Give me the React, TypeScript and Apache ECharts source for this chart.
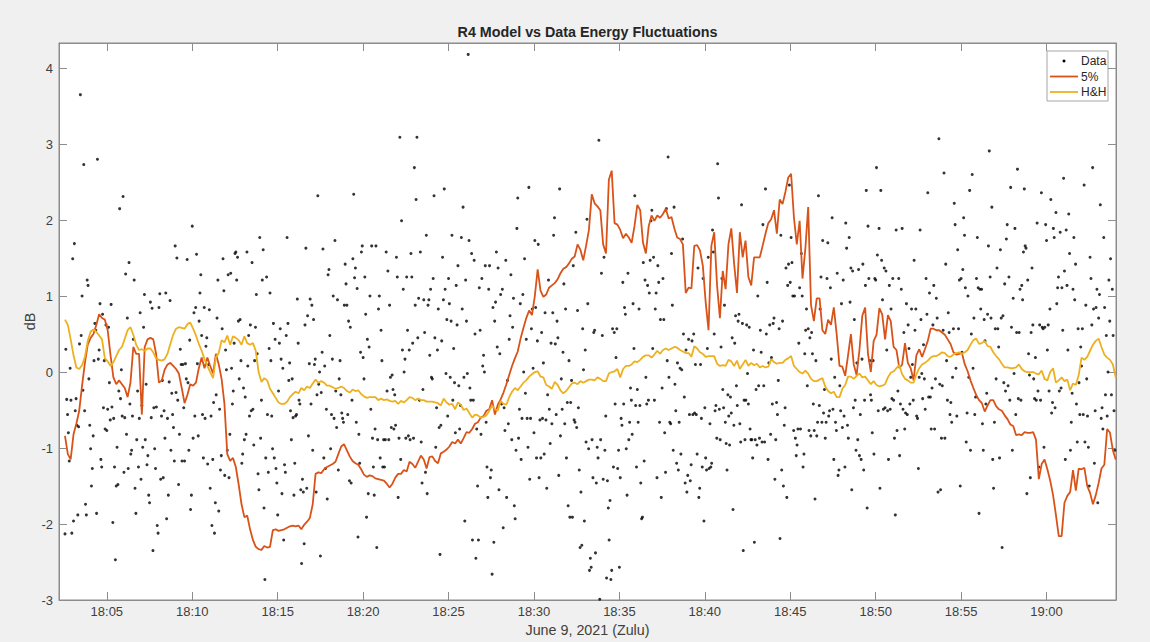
import React, { useEffect, useRef } from "react";
import * as echarts from "echarts";

// Time is measured in seconds after 18:00:00 (Zulu), June 9, 2021.
const AXIS_START = 132;
const AXIS_END = 3844;
const TICK_SECONDS = [300, 600, 900, 1200, 1500, 1800, 2100, 2400, 2700, 3000, 3300, 3600];
const TICK_LABELS = ["18:05", "18:10", "18:15", "18:20", "18:25", "18:30", "18:35", "18:40", "18:45", "18:50", "18:55", "19:00"];
const Y_TICKS = [-3, -2, -1, 0, 1, 2, 3, 4];
const Y_MIN = -3;
const Y_MAX = 4.33;

// Measured energy fluctuation samples (dB), one every 3 s.
const DATA_START = 153;
const DATA_STEP = 3;
const DATA_DB = [
  -2.13, 0.30, -0.36, -0.56, -0.80, -1.17, 0.05, -0.37, -2.12, 1.49, -1.96, 1.69, -0.51, -0.35, -0.70, -1.88, -0.72, 0.37, 3.65, 0.48,
  1.00, -0.24, 2.73, -0.51, -1.74, -1.88, 1.21, 1.14, -0.09, -0.70, -1.01, -1.50, -1.27, -0.84, 0.15, 0.64, 0.55, -1.86, 2.80, 0.17,
  0.29, 0.90, -1.15, -1.25, 0.76, -0.47, 0.15, -0.75, 0.62, -0.77, -0.49, 0.59, -0.14, -0.63, 0.89, -0.46, -1.98, -0.61, -1.25, -2.47,
  -1.50, -0.99, -1.48, -0.25, 2.15, -0.35, 0.03, -0.58, 2.31, -1.32, -0.60, 1.29, -0.82, 0.71, -1.27, 1.44, -0.42, -1.08, -1.03, -0.58,
  0.43, 1.21, -1.53, -1.86, -0.89, -0.25, -1.25, -0.61, 0.78, -1.41, -0.44, -0.99, 0.59, 1.02, -0.89, -0.16, -1.22, -1.10, -1.62, -1.72,
  0.92, -0.60, 0.84, -2.35, -0.47, -1.01, -1.27, -0.46, -2.02, -2.12, 0.85, 1.03, -1.41, -0.58, -0.11, -1.39, -0.51, -0.87, 1.04, -1.93,
  -0.61, -1.62, -0.13, 0.94, -1.03, -0.28, -0.56, -0.73, -1.17, 1.66, -0.27, 1.50, -0.37, -1.48, -0.82, 0.30, 0.10, -1.17, 0.10, -0.47,
  -1.17, 0.11, -0.09, 1.48, -0.14, -1.03, 0.42, -1.81, -1.62, 1.92, -0.87, 0.78, -0.58, 0.85, 1.55, 0.11, -0.84, 0.67, 1.04, 1.28,
  0.48, -0.56, -1.13, 0.85, -0.61, 0.34, 0.45, -1.21, 0.10, 0.82, -1.53, -0.58, -2.02, -1.15, -0.40, -2.12, -1.72, -0.30, 0.71, 1.21,
  -1.83, -0.49, -1.29, -1.10, 0.57, 1.49, 1.07, -1.36, 0.29, 0.03, -1.03, 1.28, -1.39, -0.82, 1.30, 0.05, -0.42, -0.25, 0.38, 1.56,
  1.58, 1.21, 1.51, 0.67, -0.09, 0.69, 0.15, -1.20, -1.08, -0.21, -0.89, -0.33, -0.82, 1.58, 0.08, 0.48, -0.58, 0.62, -0.51, 1.44,
  -0.49, -0.96, 0.15, 0.59, 1.02, 0.24, -1.34, -1.55, 1.77, -0.87, -0.37, 1.21, 1.61, -1.79, -2.73, -1.13, 1.25, -0.56, -1.32, 0.31,
  1.04, 0.15, -0.58, -1.01, 0.64, -1.13, 0.43, -1.27, -1.46, -1.88, -0.25, 0.38, 0.57, 0.17, -1.60, 0.05, -2.21, -1.22, -1.32, 0.48,
  1.77, 0.64, -0.11, 0.12, -0.51, -0.89, -0.09, -0.60, -1.62, -1.20, -0.58, -0.56, 0.96, 0.38, -0.37, -0.42, -1.55, -2.52, -1.41, -1.58,
  -2.26, 0.62, 1.63, -1.53, 0.74, -0.84, 0.11, 0.96, -0.42, 0.88, -1.03, 0.69, 0.10, 0.17, -1.58, -0.30, 2.32, -0.16, 0.00, -2.42,
  -0.27, 0.26, 1.62, -1.13, 0.08, -1.27, -0.49, -1.67, 1.28, 1.35, 0.48, -1.01, -0.56, 0.17, 1.00, -0.61, 1.73, -0.25, -0.73, 0.95,
  -1.29, -0.09, 0.15, -0.30, -0.54, -0.61, -0.66, 0.88, 1.42, 1.16, 0.88, -0.56, 0.67, -1.43, 0.59, -1.46, -0.37, 1.49, 2.34, 1.24,
  1.37, -0.66, 1.10, -2.17, -0.82, -1.20, 0.26, 1.58, 1.66, 0.19, -0.09, 1.25, 0.76, -1.91, 0.43, -1.60, 0.33, 1.00, -0.49, 1.66,
  -0.87, -1.25, -1.62, -0.75, 1.66, -2.31, -0.89, 0.83, 1.00, -1.13, 0.55, 0.15, -1.25, -0.89, -1.25, -0.89, 1.58, -0.25, 1.33, -0.89,
  0.88, -0.07, -0.73, -0.04, -0.23, -0.75, -0.30, -0.70, 1.51, 1.25, -1.65, -0.87, 3.09, -1.15, 1.99, 0.29, 1.09, 0.00, 0.17, -0.87,
  1.25, 0.55, -0.84, 0.29, -0.89, 1.56, 1.25, 0.38, -0.87, 2.69, 0.88, 2.27, 3.09, 0.45, 0.97, -0.37, 1.58, -0.92, -1.46, -0.23,
  0.95, 0.52, -1.32, 1.80, -1.60, 0.88, 0.95, 0.22, 1.09, -0.07, -0.09, 1.23, 2.32, 0.45, -0.99, -0.47, 0.29, 0.83, -0.73, -2.40,
  -0.70, 0.41, 1.51, 0.95, 2.41, 1.09, -0.02, 0.69, -0.58, 1.23, 0.90, -0.07, 0.67, 1.80, -0.37, 0.31, -0.14, -0.80, 1.14, 0.62,
  1.40, -0.18, -0.75, -0.44, 1.77, 0.83, 2.17, -0.07, -1.96, 1.21, 0.67, -0.02, 4.18, 1.73, -0.21, -0.37, 1.56, -2.21, -0.37, 1.47,
  0.50, -2.45, -0.75, -1.50, -2.21, 1.11, 0.55, -0.82, 1.23, 0.08, 0.22, 0.00, 1.40, -0.66, -1.25, -1.65, 1.09, 1.40, -1.39, -1.29,
  -2.66, 0.85, -2.24, 0.67, 0.92, 1.58, 0.33, 1.37, -1.55, 0.24, 1.02, -0.42, 1.09, -2.05, -0.47, -0.77, 1.47, -1.65, -0.11, -0.68,
  0.43, 0.74, 1.28, -0.89, 0.59, 0.97, -1.76, -1.93, -1.03, 1.89, 2.29, -0.87, -0.49, 0.90, -1.15, -0.61, 1.02, 0.00, 1.49, -0.28,
  0.43, -0.61, -0.99, 2.43, -1.41, -0.61, 0.57, 0.83, 0.05, -0.80, 1.73, 0.85, -1.13, 0.41, 1.68, -1.39, -0.63, -1.13, 0.52, -0.61,
  0.12, -1.08, 0.78, -0.63, -1.53, -0.30, 1.21, -0.49, -0.94, 0.38, -0.68, 0.78, 1.80, 2.03, 0.37, -0.56, 0.67, 0.45, -1.36, 2.41,
  -0.84, -0.09, -0.49, 0.26, 1.16, -0.68, 0.83, -1.13, -0.40, -1.76, 0.15, -1.91, -0.40, -0.11, -1.91, 1.40, -0.63, -0.66, 1.84, -0.73,
  0.81, -0.47, -1.29, -2.31, -1.58, -2.28, 0.57, 0.03, -1.96, 0.29, -0.92, 2.01, 0.90, -1.01, -2.61, -2.45, -2.57, -0.89, -1.39, 0.52,
  0.55, -2.38, -1.46, -0.99, -1.13, 3.05, -2.99, -0.89, 1.30, 0.48, -1.41, 1.51, -1.03, -0.58, -2.71, -1.43, -1.79, -2.21, -1.69, -2.73,
  -2.61, 0.57, -1.25, 0.52, -0.42, 0.19, 0.57, -1.27, -1.03, -2.57, -1.39, -0.61, -0.70, 1.18, -0.42, 0.85, 0.76, -1.01, -1.62, 1.30,
  -0.89, -0.66, -0.21, -0.37, -0.82, 0.90, 0.31, 2.32, -0.44, -1.25, -0.23, -0.66, 0.83, -0.44, -1.46, -1.93, -1.91, 1.44, -1.17, 1.21,
  -0.07, -0.42, 1.14, -0.37, 1.04, 1.47, 1.99, 2.13, 0.31, 1.51, -0.37, 0.83, 1.04, -1.39, 1.40, 1.18, -0.66, 0.69, -1.65, -0.21,
  1.23, 0.69, -0.80, -1.32, 2.15, 0.15, 2.83, -0.07, -0.66, -0.68, 1.56, 0.88, -1.03, 2.17, -0.16, -0.51, -1.20, 0.12, -1.29, -0.66,
  0.05, -1.08, 0.03, 1.75, 0.50, -0.33, -1.46, 0.29, -1.58, -1.36, 0.43, -0.56, -1.43, -1.22, 0.41, -0.56, 0.50, -0.54, 0.10, -0.56,
  -1.08, 1.37, -1.65, -1.53, 0.10, -0.61, -1.25, 1.23, -1.96, -0.47, -1.13, -1.29, 0.31, 1.51, -1.27, -0.68, -1.25, -1.20, 1.87, 1.58,
  0.50, -0.51, -0.44, -0.87, 2.74, 2.29, -0.49, -0.89, 0.33, 1.23, -0.23, -0.47, 0.88, -0.66, -0.94, -1.29, -0.30, -0.58, -0.96, -0.33,
  -0.54, 0.45, -1.81, -0.70, 0.38, 0.74, -0.18, -0.44, 0.67, 0.76, -0.68, -0.92, 2.20, 0.64, -2.35, -0.37, -0.89, -0.37, 0.62, -0.02,
  -0.42, 0.59, -0.75, -0.89, -0.89, -1.13, 0.29, -2.24, -0.89, -0.23, -0.96, 1.00, -0.18, -0.87, 0.55, 0.26, -0.92, 1.94, -0.18, -0.92,
  2.41, 0.50, 1.18, -1.15, 0.12, 0.62, -0.82, 0.19, -0.42, 0.64, 0.71, -1.41, -0.89, -0.40, -0.56, -0.11, 0.57, -2.19, 1.80, -1.29,
  0.67, -1.50, -0.70, -0.47, 1.37, -1.65, 1.14, 1.42, 2.46, 1.18, 1.77, 1.44, 1.00, -0.77, 1.00, -0.87, -1.10, -0.96, -0.75, 0.38,
  1.11, -0.75, 1.56, 1.00, -1.25, -1.08, 0.24, 0.55, 0.83, -0.18, 0.57, -0.77, 0.45, -0.84, 0.52, 0.24, -0.42, -0.77, -1.67, 0.15,
  -0.84, -0.66, 2.32, -0.44, 0.83, 1.25, -0.66, 1.73, -0.54, -0.23, -0.87, -0.66, 1.23, 1.70, -0.58, -0.51, 1.11, 0.17, 2.03, -0.49,
  -1.15, -0.07, -0.66, -0.77, 1.30, -1.36, -1.29, -0.18, -0.51, 0.90, -0.73, 1.21, -0.58, -1.25, 1.96, 1.63, -0.70, -0.87, 1.77, 0.92,
  1.37, -1.55, 1.33, -0.47, 0.69, -0.37, -1.03, 0.12, -0.89, 1.35, -1.10, -0.56, -1.15, 0.17, 1.42, -1.29, -0.37, 1.14, 2.39, -1.79,
  1.92, 1.23, 0.15, -0.30, -0.37, -0.80, 0.15, -1.08, 1.23, 1.21, 2.69, 1.54, -0.51, 1.89, -1.53, 2.39, 1.47, 0.95, -0.49, 1.37,
  -0.47, 1.33, 0.29, -0.51, -1.15, 1.14, -0.49, 0.83, -0.35, 1.23, -0.37, -0.87, -1.88, 1.87, -0.77, -0.25, 1.23, -1.10, -0.42, 1.09,
  1.89, -0.49, 0.52, -0.75, -0.54, 0.90, -0.56, 0.62, 0.31, -0.42, -0.07, 0.83, 0.10, -0.37, 1.47, 0.55, 0.83, -0.58, -0.61, -1.27,
  -0.07, 1.87, 0.69, -0.02, -0.35, 0.36, -0.09, -0.49, 1.23, 0.76, 2.36, -0.33, 1.04, -0.33, -0.75, -0.21, 0.62, 1.14, -0.75, -0.09,
  0.97, 0.71, -1.58, 3.07, -0.16, -1.55, -0.87, -0.18, 0.55, 2.62, -0.87, 1.42, 0.15, -0.37, 0.78, 0.52, -0.56, -0.40, -0.66, -0.07,
  0.57, 2.22, 1.94, 0.05, -0.58, 1.61, 0.57, 1.21, -1.50, 1.23, 0.26, 1.35, 2.03, 1.80, 1.11, -0.92, -0.54, 1.00, -0.07, 2.39,
  -1.03, 0.50, 2.60, 0.05, 0.71, -0.56, -0.33, 1.23, 1.77, 1.11, -1.86, 1.09, 0.83, 1.09, -0.68, -1.03, 0.69, 0.41, -0.42, -0.28,
  0.76, 1.66, 2.91, 1.25, 0.71, 2.17, -1.15, -1.53, -0.66, 0.57, -0.09, 1.37, 0.57, 0.33, -1.13, 1.61, 0.71, -2.31, 0.74, -0.14,
  1.16, -0.25, 1.75, 1.94, -0.18, 1.25, -0.37, 2.43, 0.59, -1.03, 0.97, -0.02, 1.89, -0.56, 0.52, 2.67, -0.35, 0.52, 1.09, -0.37,
  1.14, 0.95, 1.58, 2.41, 1.66, 1.63, -1.60, 1.21, 0.24, -0.04, -1.39, 0.52, 1.37, 0.62, -0.09, -0.35, 0.19, -0.37, 1.96, -0.25,
  -1.25, 0.62, -0.37, 2.36, 0.59, 0.57, -0.99, 0.59, 1.94, 1.73, 0.29, 0.62, -0.25, 0.83, 2.27, -0.54, -0.40, 1.89, 1.77, -0.47,
  2.10, 0.90, 1.11, 1.25, -0.25, 1.84, -0.21, 1.11, 0.55, 2.55, 1.33, -1.15, 1.87, 1.14, 0.29, 2.08, 1.56, -1.03, -0.66, -0.28,
  1.09, 1.77, 0.95, 1.42, -0.42, -0.92, 0.57, -0.14, -0.56, 0.33, 0.08, 0.57, -0.56, 2.46, -0.92, 0.88, -0.09, -0.58, -0.99, -1.50,
  1.51, 1.23, 0.62, 2.69, 0.83, -1.20, -0.51, 0.85, 1.09, -1.72, 0.71, 1.02, 2.20, -0.61, -0.47, -0.75, 1.77, 0.85, -0.30, 0.48,
  -0.58, 0.00, 1.21, 0.67, 1.49, -0.30, 1.09, 0.48, -0.51, -1.03,
];

// Model curves (dB), one value every 10 s.
const MODEL_START = 153;
const MODEL_STEP = 10;
const FIVE_PCT_DB = [
  -0.84, -1.08, -1.15, -0.82, -0.68, -0.51, -0.18, 0.12, 0.36, 0.45,
  0.50, 0.62, 0.76, 0.71, 0.69, 0.55, 0.22, -0.07, -0.16, -0.11,
  -0.16, -0.21, -0.33, -0.14, 0.33, 0.24, 0.24, -0.56, 0.33, 0.43,
  0.45, 0.43, 0.24, -0.14, -0.11, 0.03, 0.10, 0.12, 0.08, 0.04,
  -0.02, -0.21, -0.41, -0.30, -0.16, -0.18, -0.14, 0.05, 0.19, 0.05,
  0.19, 0.08, -0.02, 0.24, 0.10, -0.09, -0.42, -1.08, -1.17, -1.13,
  -1.25, -1.48, -1.74, -1.91, -1.89, -2.07, -2.21, -2.30, -2.33, -2.34,
  -2.29, -2.31, -2.30, -2.08, -2.07, -2.09, -2.08, -2.07, -2.05, -2.03,
  -2.02, -2.03, -2.02, -2.07, -2.01, -1.97, -1.92, -1.74, -1.34, -1.32,
  -1.33, -1.28, -1.25, -1.23, -1.21, -1.18, -1.08, -0.98, -0.95, -1.03,
  -1.11, -1.17, -1.20, -1.22, -1.28, -1.35, -1.38, -1.36, -1.37, -1.40,
  -1.41, -1.42, -1.43, -1.47, -1.52, -1.47, -1.39, -1.34, -1.34, -1.29,
  -1.31, -1.18,
  -1.21, -1.26, -1.18, -1.10, -1.15, -1.27, -1.12, -1.11, -1.17, -1.20,
  -1.07, -1.05, -1.02, -0.98, -0.92, -0.94, -0.89, -0.94, -0.87, -0.79,
  -0.80, -0.75, -0.68, -0.66, -0.60, -0.58, -0.51, -0.49, -0.37, -0.56,
  -0.43, -0.36, -0.27, -0.16, -0.04, 0.08, 0.18, 0.27, 0.44, 0.58,
  0.71, 0.81, 0.75, 1.00, 1.35, 1.07, 0.99, 1.02, 1.11, 1.14,
  1.17, 1.22, 1.30, 1.36, 1.38, 1.43, 1.49, 1.52, 1.68, 1.61,
  1.47, 1.66,
  1.87, 2.34, 2.22, 2.18, 2.13, 1.68, 1.56, 2.53, 2.65, 1.96,
  1.94, 1.87, 1.76, 1.82, 1.77, 1.70, 1.92, 2.20, 2.13, 1.70,
  1.56, 1.92, 2.06, 1.99, 2.06, 2.03, 2.08, 2.15, 2.02, 2.04,
  1.89, 1.77, 1.75, 1.68, 1.04, 1.11, 1.10, 1.66, 1.67, 1.60,
  1.40, 0.92, 0.55, 1.66, 1.84, 1.14, 0.71, 1.33, 1.09, 1.68,
  1.89, 1.42, 1.04, 1.84, 1.51, 1.73, 1.25, 1.14, 1.51, 1.51,
  1.51, 1.66,
  1.82, 1.96, 2.01, 2.13, 1.82, 2.27, 2.21, 2.37, 2.56, 2.61,
  2.03, 1.68, 1.99, 1.23, 1.62, 2.17, 0.88, 0.67, 0.97, 0.97,
  0.55, 0.50, 0.69, 0.62, 0.85, 0.50, 0.08, 0.07, -0.05, 0.22,
  0.50, 0.10, -0.04, 0.29, 0.74, 0.85, 0.24, 0.00, 0.41, 0.49,
  0.84, 0.76, 0.43, 0.75, 0.67, 0.33, 0.29, 0.05, 0.10, 0.38,
  0.12, 0.05, -0.11, 0.22, 0.30, 0.20, 0.30, 0.41, 0.57, 0.57,
  0.55, 0.55,
  0.52, 0.49, 0.43, 0.37, 0.26, 0.23, 0.24, 0.25, 0.10, 0.01,
  -0.11, -0.21, -0.30, -0.37, -0.41, -0.52, -0.44, -0.37, -0.37, -0.45,
  -0.49, -0.51, -0.57, -0.62, -0.69, -0.71, -0.83, -0.82, -0.83, -0.79,
  -0.80, -0.80, -0.79, -0.89, -1.41, -1.21, -1.15, -1.28, -1.43, -1.62,
  -1.88, -2.16, -2.16, -1.72, -1.63, -1.58, -1.29, -1.56, -1.27, -1.28,
  -1.26, -1.50, -1.59, -1.74, -1.62, -1.46, -1.27, -1.22, -0.75, -0.80,
  -1.03, -1.15,
];

const HH_DB = [
  0.69, 0.62, 0.43, 0.22, 0.06, 0.04, 0.09, 0.20, 0.41, 0.53,
  0.56, 0.53, 0.48, 0.43, 0.18, 0.14, 0.08, 0.13, 0.21, 0.29,
  0.33, 0.44, 0.55, 0.59, 0.49, 0.36, 0.29, 0.30, 0.28, 0.31,
  0.31, 0.26, 0.18, 0.16, 0.15, 0.17, 0.24, 0.37, 0.49, 0.57,
  0.59, 0.58, 0.57, 0.63, 0.65, 0.57, 0.48, 0.37, 0.28, 0.17,
  0.08, 0.00, -0.08, 0.19, 0.25, 0.42, 0.39, 0.48, 0.36, 0.47,
  0.45, 0.42, 0.36, 0.47, 0.38, 0.36, 0.38, 0.28, 0.00, -0.13,
  -0.08, -0.11, -0.22, -0.28, -0.34, -0.40, -0.42, -0.42, -0.39, -0.33,
  -0.29, -0.26, -0.28, -0.21, -0.24, -0.19, -0.21, -0.15, -0.10, -0.14,
  -0.12, -0.14, -0.18, -0.18, -0.20, -0.22, -0.21, -0.19, -0.21, -0.25,
  -0.27, -0.23, -0.25, -0.24, -0.29, -0.32, -0.34, -0.33, -0.33, -0.33,
  -0.37, -0.35, -0.37, -0.36, -0.38, -0.39, -0.38, -0.42, -0.38, -0.40,
  -0.37, -0.33,
  -0.34, -0.37, -0.35, -0.37, -0.37, -0.39, -0.39, -0.39, -0.40, -0.41,
  -0.44, -0.35, -0.40, -0.43, -0.42, -0.49, -0.40, -0.43, -0.50, -0.48,
  -0.54, -0.60, -0.56, -0.57, -0.60, -0.59, -0.57, -0.51, -0.44, -0.49,
  -0.51, -0.38, -0.42, -0.43, -0.33, -0.26, -0.21, -0.24, -0.19, -0.14,
  -0.11, -0.06, -0.03, 0.00, 0.01, -0.06, -0.07, -0.17, -0.19, -0.22,
  -0.13, -0.17, -0.24, -0.28, -0.25, -0.20, -0.15, -0.14, -0.16, -0.12,
  -0.14, -0.12,
  -0.10, -0.10, -0.11, -0.07, -0.09, -0.12, -0.12, -0.02, 0.00, 0.01,
  0.04, -0.07, 0.04, 0.08, 0.08, 0.10, 0.14, 0.13, 0.16, 0.20,
  0.22, 0.22, 0.19, 0.23, 0.28, 0.24, 0.29, 0.31, 0.29, 0.31,
  0.33, 0.32, 0.29, 0.27, 0.25, 0.25, 0.20, 0.34, 0.31, 0.26,
  0.24, 0.20, 0.21, 0.21, 0.21, 0.11, 0.08, 0.09, 0.08, 0.16,
  0.14, 0.08, 0.15, 0.04, 0.10, 0.16, 0.08, 0.12, 0.09, 0.11,
  0.06, 0.08,
  0.06, 0.07, 0.17, 0.13, 0.11, 0.12, 0.12, 0.16, 0.18, 0.21,
  0.08, 0.04, 0.00, -0.02, 0.02, -0.02, -0.09, -0.12, -0.12, -0.10,
  -0.08, -0.19, -0.25, -0.28, -0.26, -0.33, -0.33, -0.22, -0.17, -0.06,
  -0.06, -0.09, -0.05, -0.02, -0.07, -0.06, -0.11, -0.16, -0.12, -0.17,
  -0.19, -0.18, -0.16, -0.07, -0.01, 0.01, 0.05, 0.09, -0.03, -0.09,
  -0.11, -0.14, -0.14, -0.03, 0.05, 0.10, 0.12, 0.15, 0.19, 0.21,
  0.21, 0.23,
  0.26, 0.25, 0.21, 0.20, 0.23, 0.25, 0.26, 0.24, 0.26, 0.29,
  0.36, 0.42, 0.44, 0.37, 0.38, 0.41, 0.34, 0.33, 0.26, 0.21,
  0.17, 0.11, 0.06, 0.06, 0.05, 0.05, 0.06, 0.10, 0.04, 0.01,
  0.00, 0.00, 0.00, -0.02, -0.03, 0.02, -0.09, -0.11, 0.00, 0.05,
  -0.14, -0.11, -0.07, -0.12, -0.10, -0.24, -0.15, -0.17, -0.04, 0.19,
  0.16, 0.20, 0.28, 0.36, 0.41, 0.44, 0.33, 0.23, 0.19, 0.16,
  0.10, -0.07,
];

const SERIES_NAMES = ["Data", "5%", "H&H"];
const DOT_COLOR = "#000000";
const ORANGE = "#D95319";
const YELLOW = "#EDB120";
const AXIS_COLOR = "#8c8c8c";
const LABEL_COLOR = "#404040";
const FONT = "'Liberation Sans', Arial, Helvetica, sans-serif";

function toPoints(start: number, step: number, values: number[]) {
  return values.map((v, i) => [start + i * step, v]);
}

function tickLabel(value: number) {
  const idx = TICK_SECONDS.indexOf(Math.round(value));
  return idx >= 0 ? TICK_LABELS[idx] : "";
}

export default function App() {
  const ref = useRef<HTMLDivElement>(null);

  useEffect(() => {
    if (!ref.current) return;
    const chart = echarts.init(ref.current, undefined, { renderer: "svg" });

    const xCommon = {
      type: "value",
      min: AXIS_START,
      max: AXIS_END,
      axisLine: { show: true, onZero: false, lineStyle: { color: AXIS_COLOR, width: 1 } },
      axisTick: {
        show: true,
        inside: true,
        length: 8,
        customValues: TICK_SECONDS,
        lineStyle: { color: AXIS_COLOR, width: 1 },
      },
      splitLine: { show: false },
    };
    const yCommon = {
      type: "value",
      min: Y_MIN,
      max: Y_MAX,
      interval: 1,
      axisLine: { show: true, onZero: false, lineStyle: { color: AXIS_COLOR, width: 1 } },
      axisTick: {
        show: true,
        inside: true,
        length: 8,
        customValues: Y_TICKS,
        lineStyle: { color: AXIS_COLOR, width: 1 },
      },
      splitLine: { show: false },
    };

    const legendText = (text: string, y: number) => ({
      type: "text",
      x: 1081,
      y,
      style: {
        text,
        fill: "#262626",
        font: `12px ${FONT}`,
        textVerticalAlign: "middle",
        verticalAlign: "middle",
      },
    });

    chart.setOption({
      animation: false,
      backgroundColor: "#f0f0f0",
      title: {
        text: "R4 Model vs Data Energy Fluctuations",
        left: 587.5,
        top: 25,
        padding: 0,
        textAlign: "center",
        textStyle: { fontFamily: FONT, fontSize: 14.3, fontWeight: "bold", color: "#262626" },
      },
      grid: {
        left: 59,
        right: 34,
        top: 43,
        bottom: 42,
        show: true,
        backgroundColor: "#ffffff",
        borderColor: AXIS_COLOR,
        borderWidth: 1,
      },
      xAxis: [
        {
          ...xCommon,
          position: "bottom",
          axisLabel: {
            show: true,
            customValues: TICK_SECONDS,
            formatter: tickLabel,
            color: LABEL_COLOR,
            fontFamily: FONT,
            fontSize: 13,
            margin: 5,
          },
          name: "June 9, 2021 (Zulu)",
          nameLocation: "middle",
          nameGap: 23,
          nameMoveOverlap: false,
          nameTextStyle: { fontFamily: FONT, fontSize: 14.3, color: LABEL_COLOR },
        },
        { ...xCommon, position: "top", axisLabel: { show: false } },
      ],
      yAxis: [
        {
          ...yCommon,
          position: "left",
          axisLabel: {
            show: true,
            customValues: Y_TICKS,
            color: LABEL_COLOR,
            fontFamily: FONT,
            fontSize: 13,
            margin: 6,
          },
          name: "dB",
          nameLocation: "middle",
          nameGap: 22,
          nameRotate: 90,
          nameMoveOverlap: false,
          nameTextStyle: { fontFamily: FONT, fontSize: 14.3, color: LABEL_COLOR },
        },
        { ...yCommon, position: "right", axisLabel: { show: false } },
      ],
      series: [
        {
          name: SERIES_NAMES[0],
          type: "scatter",
          data: toPoints(DATA_START, DATA_STEP, DATA_DB),
          symbol: "circle",
          symbolSize: 3,
          itemStyle: { color: DOT_COLOR },
          emphasis: { disabled: true },
        },
        {
          name: SERIES_NAMES[1],
          type: "line",
          data: toPoints(MODEL_START, MODEL_STEP, FIVE_PCT_DB),
          showSymbol: false,
          lineStyle: { color: ORANGE, width: 1.8 },
          itemStyle: { color: ORANGE },
          emphasis: { disabled: true },
        },
        {
          name: SERIES_NAMES[2],
          type: "line",
          data: toPoints(MODEL_START, MODEL_STEP, HH_DB),
          showSymbol: false,
          lineStyle: { color: YELLOW, width: 1.8 },
          itemStyle: { color: YELLOW },
          emphasis: { disabled: true },
        },
      ],
      graphic: [
        {
          type: "group",
          children: [
            {
              type: "rect",
              shape: { x: 1047, y: 51, width: 61, height: 50 },
              style: { fill: "#ffffff", stroke: "#a6a6a6", lineWidth: 1 },
            },
            { type: "circle", shape: { cx: 1064, cy: 61, r: 1.5 }, style: { fill: DOT_COLOR } },
            {
              type: "line",
              shape: { x1: 1050, y1: 76.5, x2: 1078, y2: 76.5 },
              style: { stroke: ORANGE, lineWidth: 1.8 },
            },
            {
              type: "line",
              shape: { x1: 1050, y1: 92, x2: 1078, y2: 92 },
              style: { stroke: YELLOW, lineWidth: 1.8 },
            },
            legendText(SERIES_NAMES[0], 61),
            legendText(SERIES_NAMES[1], 76.5),
            legendText(SERIES_NAMES[2], 92),
          ],
        },
      ],
    });

    return () => chart.dispose();
  }, []);

  return (
    <div
      ref={ref}
      style={{ position: "fixed", left: 0, top: 0, width: 1150, height: 642 }}
    />
  );
}
